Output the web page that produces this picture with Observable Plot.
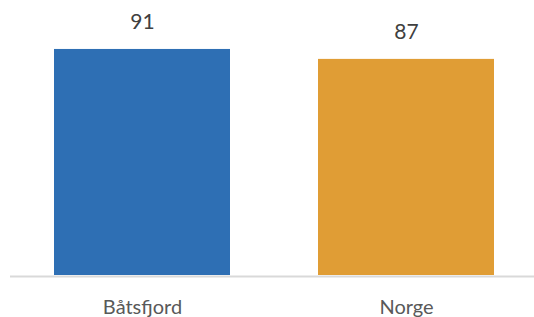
<!DOCTYPE html>
<html>
<head>
<meta charset="utf-8">
<script src="https://cdn.jsdelivr.net/npm/d3@7"></script>
<script src="https://cdn.jsdelivr.net/npm/@observablehq/plot@0.6"></script>
<style>
  html, body { margin: 0; padding: 0; background: #fff; }
  #chart svg { display: block; }
</style>
</head>
<body>
<div id="chart"></div>
<script>
const categories = ["Båtsfjord", "Norge"];
const values = [91, 87];
const colors = ["#2E6FB4", "#E09D35"];

const data = categories.map((c, i) => ({ category: c, value: values[i] }));

const chart = Plot.plot({
  width: 534,
  height: 317,
  marginLeft: 10,
  marginRight: 0,
  marginTop: 0,
  marginBottom: 0,
  style: { fontFamily: "Lato, sans-serif", background: "#fff" },
  x: { domain: categories, range: [10, 538], paddingInner: 1 / 3, paddingOuter: 1 / 6, axis: null },
  y: { domain: [0, 100], range: [275, 26.6], axis: null },
  color: { domain: categories, range: colors },
  marks: [
    Plot.barY(data, { x: "category", y: "value", fill: "category" }),
    Plot.ruleY([0], { stroke: "#d9d9d9", strokeWidth: 2, dy: 1 }),
    Plot.text(data, {
      x: "category", y: "value", text: d => String(d.value),
      lineAnchor: "bottom", dy: -20, fontSize: 21, fill: "#404040"
    }),
    Plot.text(data, {
      x: "category", y: 0, text: "category",
      lineAnchor: "bottom", dy: 38, fontSize: 20, fill: "#595959"
    })
  ]
});
document.getElementById("chart").appendChild(chart);
</script>
</body>
</html>
